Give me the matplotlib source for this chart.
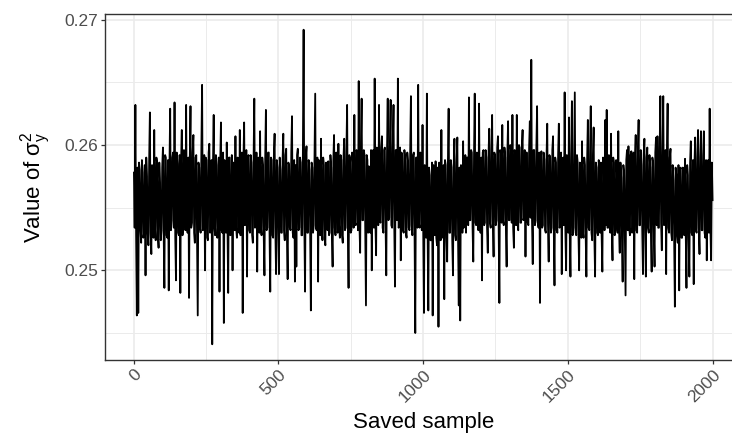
import numpy as np
import matplotlib
matplotlib.use('Agg')
from matplotlib import pyplot as plt
from matplotlib.ticker import MultipleLocator

# trace of sigma_y^2: one value every 5 saved samples
sigma_y2 = [
    0.2578, 0.2632, 0.2464, 0.2466, 0.2580, 0.2522, 0.2578, 0.2530, 0.2496, 0.2575,
    0.2520, 0.2626, 0.2513, 0.2580, 0.2612, 0.2524, 0.2586, 0.2518, 0.2570, 0.2532,
    0.2598, 0.2486, 0.2590, 0.2526, 0.2484, 0.2629, 0.2540, 0.2594, 0.2634, 0.2492,
    0.2585, 0.2528, 0.2482, 0.2612, 0.2536, 0.2590, 0.2632, 0.2530, 0.2478, 0.2631,
    0.2538, 0.2608, 0.2522, 0.2592, 0.2464, 0.2582, 0.2530, 0.2648, 0.2540, 0.2500,
    0.2588, 0.2524, 0.2601, 0.2532, 0.2441, 0.2624, 0.2528, 0.2584, 0.2536, 0.2483,
    0.2618, 0.2530, 0.2458, 0.2586, 0.2602, 0.2482, 0.2590, 0.2534, 0.2500, 0.2580,
    0.2607, 0.2526, 0.2588, 0.2612, 0.2536, 0.2466, 0.2618, 0.2540, 0.2495, 0.2592,
    0.2530, 0.2586, 0.2522, 0.2637, 0.2538, 0.2499, 0.2590, 0.2611, 0.2528, 0.2584,
    0.2496, 0.2628, 0.2534, 0.2594, 0.2483, 0.2588, 0.2526, 0.2609, 0.2497, 0.2582,
    0.2497, 0.2580, 0.2530, 0.2609, 0.2524, 0.2597, 0.2493, 0.2584, 0.2532, 0.2623,
    0.2526, 0.2491, 0.2503, 0.2597, 0.2534, 0.2586, 0.2528, 0.2692, 0.2483, 0.2599,
    0.2530, 0.2580, 0.2468, 0.2582, 0.2536, 0.2641, 0.2532, 0.2491, 0.2578, 0.2605,
    0.2524, 0.2584, 0.2520, 0.2576, 0.2587, 0.2530, 0.2582, 0.2503, 0.2608, 0.2528,
    0.2580, 0.2601, 0.2526, 0.2588, 0.2522, 0.2605, 0.2534, 0.2632, 0.2486, 0.2590,
    0.2532, 0.2586, 0.2624, 0.2536, 0.2594, 0.2651, 0.2514, 0.2637, 0.2540, 0.2592,
    0.2472, 0.2588, 0.2583, 0.2530, 0.2500, 0.2596, 0.2653, 0.2512, 0.2594, 0.2632,
    0.2538, 0.2607, 0.2530, 0.2598, 0.2496, 0.2637, 0.2542, 0.2636, 0.2534, 0.2632,
    0.2487, 0.2596, 0.2653, 0.2536, 0.2508, 0.2592, 0.2530, 0.2590, 0.2526, 0.2587,
    0.2532, 0.2639, 0.2528, 0.2594, 0.2450, 0.2590, 0.2648, 0.2534, 0.2588, 0.2616,
    0.2466, 0.2580, 0.2641, 0.2468, 0.2576, 0.2524, 0.2464, 0.2580, 0.2587, 0.2520,
    0.2455, 0.2578, 0.2612, 0.2526, 0.2477, 0.2584, 0.2507, 0.2629, 0.2530, 0.2582,
    0.2496, 0.2605, 0.2524, 0.2606, 0.2472, 0.2460, 0.2576, 0.2603, 0.2538, 0.2530,
    0.2590, 0.2638, 0.2540, 0.2594, 0.2507, 0.2641, 0.2536, 0.2588, 0.2633, 0.2530,
    0.2492, 0.2596, 0.2538, 0.2590, 0.2514, 0.2613, 0.2534, 0.2624, 0.2511, 0.2592,
    0.2540, 0.2607, 0.2474, 0.2594, 0.2616, 0.2536, 0.2590, 0.2503, 0.2619, 0.2540,
    0.2596, 0.2624, 0.2518, 0.2592, 0.2624, 0.2532, 0.2598, 0.2538, 0.2612, 0.2542,
    0.2511, 0.2594, 0.2536, 0.2619, 0.2668, 0.2505, 0.2596, 0.2540, 0.2631, 0.2534,
    0.2474, 0.2595, 0.2536, 0.2588, 0.2530, 0.2617, 0.2507, 0.2590, 0.2534, 0.2607,
    0.2488, 0.2586, 0.2530, 0.2617, 0.2536, 0.2497, 0.2590, 0.2642, 0.2500, 0.2588,
    0.2622, 0.2495, 0.2635, 0.2530, 0.2642, 0.2528, 0.2586, 0.2500, 0.2580, 0.2603,
    0.2526, 0.2584, 0.2495, 0.2620, 0.2532, 0.2631, 0.2524, 0.2614, 0.2495, 0.2582,
    0.2528, 0.2576, 0.2586, 0.2499, 0.2580, 0.2620, 0.2628, 0.2534, 0.2590, 0.2609,
    0.2508, 0.2586, 0.2532, 0.2578, 0.2611, 0.2514, 0.2574, 0.2491, 0.2578, 0.2480,
    0.2596, 0.2599, 0.2528, 0.2595, 0.2534, 0.2493, 0.2608, 0.2530, 0.2620, 0.2536,
    0.2584, 0.2497, 0.2605, 0.2495, 0.2598, 0.2530, 0.2582, 0.2499, 0.2586, 0.2503,
    0.2606, 0.2607, 0.2534, 0.2639, 0.2516, 0.2639, 0.2538, 0.2497, 0.2633, 0.2530,
    0.2597, 0.2524, 0.2572, 0.2471, 0.2576, 0.2522, 0.2484, 0.2582, 0.2526, 0.2570,
    0.2589, 0.2486, 0.2576, 0.2495, 0.2603, 0.2528, 0.2489, 0.2606, 0.2530, 0.2612,
    0.2513, 0.2611, 0.2532, 0.2611, 0.2526, 0.2508, 0.2588, 0.2629, 0.2508, 0.2556,
]
# values in between (the samples half way between two of the above)
sigma_y2_mid = [
    0.2534, 0.2528, 0.2582, 0.2586, 0.2532, 0.2588, 0.2526, 0.2584, 0.2590, 0.2530,
    0.2588, 0.2530, 0.2584, 0.2526, 0.2534, 0.2590, 0.2528, 0.2586, 0.2524, 0.2582,
    0.2530, 0.2592, 0.2528, 0.2588, 0.2584, 0.2532, 0.2590, 0.2534, 0.2526, 0.2594,
    0.2530, 0.2592, 0.2586, 0.2528, 0.2596, 0.2532, 0.2536, 0.2590, 0.2588, 0.2534,
    0.2594, 0.2530, 0.2590, 0.2528, 0.2586, 0.2534, 0.2596, 0.2532, 0.2592, 0.2590,
    0.2526, 0.2594, 0.2530, 0.2588, 0.2584, 0.2534, 0.2592, 0.2526, 0.2590, 0.2586,
    0.2532, 0.2594, 0.2588, 0.2530, 0.2536, 0.2590, 0.2528, 0.2592, 0.2586, 0.2532,
    0.2534, 0.2590, 0.2530, 0.2528, 0.2594, 0.2588, 0.2536, 0.2596, 0.2590, 0.2532,
    0.2592, 0.2528, 0.2588, 0.2534, 0.2594, 0.2586, 0.2530, 0.2536, 0.2590, 0.2528,
    0.2588, 0.2532, 0.2594, 0.2530, 0.2590, 0.2528, 0.2592, 0.2534, 0.2588, 0.2530,
    0.2590, 0.2530, 0.2588, 0.2532, 0.2592, 0.2528, 0.2586, 0.2534, 0.2594, 0.2530,
    0.2588, 0.2584, 0.2592, 0.2532, 0.2590, 0.2528, 0.2594, 0.2536, 0.2590, 0.2530,
    0.2588, 0.2532, 0.2586, 0.2530, 0.2592, 0.2534, 0.2590, 0.2588, 0.2528, 0.2532,
    0.2590, 0.2526, 0.2586, 0.2532, 0.2528, 0.2592, 0.2530, 0.2588, 0.2534, 0.2594,
    0.2530, 0.2536, 0.2592, 0.2528, 0.2590, 0.2532, 0.2594, 0.2536, 0.2592, 0.2530,
    0.2594, 0.2534, 0.2538, 0.2596, 0.2532, 0.2536, 0.2598, 0.2540, 0.2596, 0.2534,
    0.2592, 0.2530, 0.2536, 0.2596, 0.2592, 0.2534, 0.2538, 0.2598, 0.2536, 0.2540,
    0.2598, 0.2534, 0.2596, 0.2538, 0.2594, 0.2540, 0.2600, 0.2536, 0.2598, 0.2538,
    0.2596, 0.2540, 0.2534, 0.2598, 0.2594, 0.2532, 0.2596, 0.2530, 0.2594, 0.2534,
    0.2596, 0.2536, 0.2592, 0.2530, 0.2590, 0.2534, 0.2538, 0.2594, 0.2532, 0.2530,
    0.2584, 0.2526, 0.2530, 0.2582, 0.2524, 0.2586, 0.2584, 0.2528, 0.2526, 0.2582,
    0.2586, 0.2524, 0.2528, 0.2584, 0.2588, 0.2526, 0.2586, 0.2530, 0.2588, 0.2524,
    0.2584, 0.2528, 0.2586, 0.2526, 0.2582, 0.2584, 0.2530, 0.2534, 0.2592, 0.2590,
    0.2536, 0.2540, 0.2596, 0.2534, 0.2592, 0.2538, 0.2594, 0.2532, 0.2538, 0.2590,
    0.2594, 0.2536, 0.2596, 0.2534, 0.2592, 0.2538, 0.2596, 0.2540, 0.2594, 0.2536,
    0.2598, 0.2534, 0.2596, 0.2538, 0.2540, 0.2598, 0.2534, 0.2594, 0.2540, 0.2600,
    0.2538, 0.2534, 0.2596, 0.2536, 0.2540, 0.2600, 0.2538, 0.2598, 0.2540, 0.2596,
    0.2594, 0.2538, 0.2598, 0.2542, 0.2540, 0.2596, 0.2536, 0.2598, 0.2538, 0.2594,
    0.2592, 0.2534, 0.2594, 0.2532, 0.2590, 0.2536, 0.2592, 0.2530, 0.2596, 0.2534,
    0.2590, 0.2532, 0.2592, 0.2534, 0.2594, 0.2588, 0.2536, 0.2532, 0.2592, 0.2530,
    0.2532, 0.2590, 0.2528, 0.2588, 0.2534, 0.2592, 0.2530, 0.2586, 0.2526, 0.2532,
    0.2590, 0.2528, 0.2588, 0.2534, 0.2592, 0.2530, 0.2590, 0.2526, 0.2586, 0.2530,
    0.2588, 0.2530, 0.2528, 0.2590, 0.2532, 0.2536, 0.2534, 0.2592, 0.2530, 0.2534,
    0.2590, 0.2528, 0.2588, 0.2530, 0.2534, 0.2586, 0.2526, 0.2584, 0.2528, 0.2588,
    0.2532, 0.2534, 0.2592, 0.2530, 0.2594, 0.2590, 0.2532, 0.2594, 0.2536, 0.2596,
    0.2532, 0.2592, 0.2530, 0.2590, 0.2534, 0.2592, 0.2528, 0.2590, 0.2532, 0.2594,
    0.2536, 0.2534, 0.2596, 0.2538, 0.2594, 0.2536, 0.2596, 0.2592, 0.2534, 0.2590,
    0.2530, 0.2584, 0.2526, 0.2582, 0.2528, 0.2584, 0.2580, 0.2526, 0.2582, 0.2528,
    0.2530, 0.2584, 0.2526, 0.2586, 0.2530, 0.2588, 0.2584, 0.2532, 0.2590, 0.2534,
    0.2590, 0.2532, 0.2592, 0.2530, 0.2588, 0.2586, 0.2530, 0.2534, 0.2586,
]

# put the two sets back in sample order
values = []
for i in range(len(sigma_y2_mid)):
    values.append(sigma_y2[i])
    values.append(sigma_y2_mid[i])
values.append(sigma_y2[-1])
saved_sample = np.linspace(1, 2000, len(values))

x_ticks = [0, 500, 1000, 1500, 2000]
x_label = "Saved sample"
y_label = r"Value of $\mathregular{\sigma_y^2}$"

plt.rcParams['font.family'] = ['Liberation Sans', 'DejaVu Sans']
plt.rcParams['mathtext.fontset'] = 'custom'
plt.rcParams['mathtext.rm'] = 'Liberation Sans'

fig = plt.figure(figsize=(7.32, 4.43), dpi=100)
ax = fig.add_axes([105/732, 1 - 360/443, 636.5/732, 346/443])

ax.plot(saved_sample, values, color='black', linewidth=1.3)
ax.margins(x=0.05, y=0.05)

# theme_bw look
ax.set_xticks(x_ticks)
ax.set_xticklabels([str(t) for t in x_ticks])
ax.xaxis.set_minor_locator(MultipleLocator(250))
ax.yaxis.set_major_locator(MultipleLocator(0.01))
ax.yaxis.set_minor_locator(MultipleLocator(0.005))
ax.grid(which='major', color='#EBEBEB', linewidth=1.2)
ax.grid(which='minor', color='#EBEBEB', linewidth=0.7)
ax.set_axisbelow(True)
for s in ax.spines.values():
    s.set_color('#333333')
    s.set_linewidth(1.0)
ax.tick_params(which='major', length=3, width=0.9, color='#333333',
               labelsize=12.5, labelcolor='#4D4D4D', pad=2)
ax.tick_params(which='minor', length=0)
ax.yaxis.set_major_formatter(matplotlib.ticker.FormatStrFormatter('%.2f'))
for lab in ax.get_xticklabels():
    lab.set_rotation(45)
    lab.set_ha('right')
    lab.set_va('top')
    lab.set_rotation_mode('anchor')

ax.set_xlabel(x_label, fontsize=16, labelpad=5)
ax.set_ylabel(y_label, fontsize=16, labelpad=8)

fig.savefig('out.png', dpi=100)
